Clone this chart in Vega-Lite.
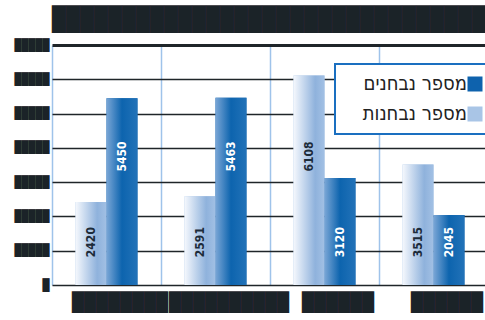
{
  "$schema": "https://vega.github.io/schema/vega-lite/v6.json",
  "width": 436,
  "height": 240,
  "padding": {"left": 14, "top": 7, "right": 0, "bottom": 0},
  "background": "white",
  "title": {
    "text": "███████████████████████████████",
    "anchor": "start",
    "frame": "group",
    "font": "DejaVu Sans Mono",
    "fontSize": 23.254,
    "fontWeight": "normal",
    "color": "#1b2328",
    "offset": 7
  },
  "config": {"view": {"stroke": null}},
  "data": {
    "values": [
      {"group": "1", "series": "מספר נבחנות", "value": 2420},
      {"group": "1", "series": "מספר נבחנים", "value": 5450},
      {"group": "2", "series": "מספר נבחנות", "value": 2591},
      {"group": "2", "series": "מספר נבחנים", "value": 5463},
      {"group": "3", "series": "מספר נבחנות", "value": 6108},
      {"group": "3", "series": "מספר נבחנים", "value": 3120},
      {"group": "4", "series": "מספר נבחנות", "value": 3515},
      {"group": "4", "series": "מספר נבחנים", "value": 2045}
    ]
  },
  "encoding": {
    "x": {
      "field": "group",
      "type": "nominal",
      "sort": null,
      "scale": {"paddingInner": 0, "paddingOuter": 0},
      "axis": {
        "title": null,
        "grid": true,
        "gridColor": "#9fc3ea",
        "gridWidth": 1.5,
        "bandPosition": 0,
        "domain": false,
        "ticks": false,
        "labelAngle": 0,
        "labelPadding": 8,
        "labelOffset": 13.5,
        "labelFont": "DejaVu Sans Mono",
        "labelFontSize": 19.93,
        "labelColor": "#1b2328",
        "labelExpr": "datum.value == '1' ? '████████' : datum.value == '2' ? '██████████' : '██████'"
      }
    },
    "xOffset": {
      "field": "series",
      "type": "nominal",
      "scale": {"domain": ["מספר נבחנות", "מספר נבחנים"], "paddingOuter": 0.76, "paddingInner": 0}
    },
    "y": {
      "field": "value",
      "type": "quantitative",
      "scale": {"domain": [0, 7000]},
      "axis": {
        "title": null,
        "values": [0, 1000, 2000, 3000, 4000, 5000, 6000, 7000],
        "grid": true,
        "gridColor": "#1f2529",
        "gridWidth": {"condition": {"test": "datum.value == 7000", "value": 3}, "value": 1.5},
        "domain": false,
        "ticks": false,
        "labelPadding": 3,
        "labelFont": "DejaVu Sans Mono",
        "labelFontSize": 11.627,
        "labelColor": "#1b2328",
        "labelExpr": "datum.value == 0 ? '█' : '█████'"
      }
    }
  },
  "layer": [
    {
      "mark": {"type": "bar"},
      "encoding": {
        "color": {
          "field": "series",
          "type": "nominal",
          "scale": {"domain": ["מספר נבחנים", "מספר נבחנות"], "range": ["#0e62ad", "#a9c5e6"]},
          "legend": {
            "orient": "none",
            "legendX": 283,
            "legendY": 19,
            "title": null,
            "symbolType": "square",
            "symbolSize": 225,
            "symbolStrokeWidth": 0,
            "symbolOffset": 120,
            "labelFont": "DejaVu Sans Condensed",
            "labelFontSize": 20,
            "labelColor": "#222222",
            "labelAlign": "right",
            "labelOffset": -18,
            "labelLimit": 0,
            "strokeColor": "#1a6fc0",
            "fillColor": "white",
            "padding": 10,
            "rowPadding": 10,
            "encode": {"legend": {"update": {"strokeWidth": {"value": 2}}}}
          }
        }
      }
    },
    {
      "transform": [{"filter": "datum.series === 'מספר נבחנות'"}],
      "mark": {
        "type": "bar",
        "color": {
          "gradient": "linear", "x1": 0, "x2": 1, "y1": 0, "y2": 0,
          "stops": [
            {"offset": 0, "color": "#f5f8fd"},
            {"offset": 0.7, "color": "#8fb2dc"},
            {"offset": 1, "color": "#a2c0e4"}
          ]
        }
      }
    },
    {
      "transform": [{"filter": "datum.series === 'מספר נבחנים'"}],
      "mark": {
        "type": "bar",
        "color": {
          "gradient": "linear", "x1": 0, "x2": 1, "y1": 0, "y2": 0,
          "stops": [
            {"offset": 0, "color": "#7aa6d6"},
            {"offset": 0.5, "color": "#0d64ae"},
            {"offset": 1, "color": "#2272b8"}
          ]
        }
      }
    },
    {
      "transform": [{"filter": "datum.value < 4000"}],
      "mark": {"type": "text", "angle": 270, "align": "center", "baseline": "middle", "font": "DejaVu Sans Condensed", "fontSize": 12, "fontWeight": "bold"},
      "encoding": {
        "y": {"datum": 1250},
        "text": {"field": "value", "type": "quantitative", "format": "d"},
        "color": {"condition": {"test": "datum.series === 'מספר נבחנים'", "value": "white"}, "value": "#1c2b3a"}
      }
    },
    {
      "transform": [{"filter": "datum.value >= 4000"}],
      "mark": {"type": "text", "angle": 270, "align": "center", "baseline": "middle", "font": "DejaVu Sans Condensed", "fontSize": 12, "fontWeight": "bold"},
      "encoding": {
        "y": {"datum": 3750},
        "text": {"field": "value", "type": "quantitative", "format": "d"},
        "color": {"condition": {"test": "datum.series === 'מספר נבחנים'", "value": "white"}, "value": "#1c2b3a"}
      }
    }
  ]
}
